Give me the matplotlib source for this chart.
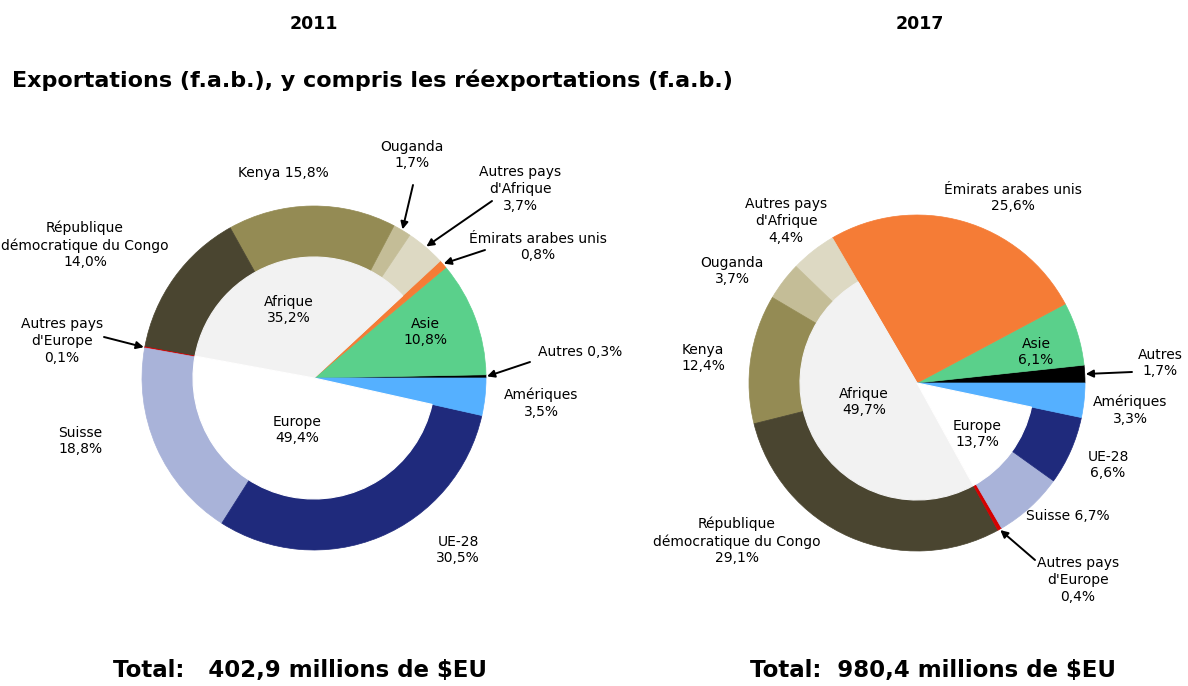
import matplotlib.pyplot as plt
import numpy as np

W, H = 1188, 686

# order of slices, counter-clockwise from 3 o'clock
names = ['Autres', 'Asie', 'Émirats arabes unis', "Autres pays d'Afrique", 'Ouganda',
         'Kenya', 'République démocratique du Congo', "Autres pays d'Europe",
         'Suisse', 'UE-28', 'Amériques']
vals_2011 = [0.3, 10.8, 0.8, 3.7, 1.7, 15.8, 14.0, 0.1, 18.8, 30.5, 3.5]
vals_2017 = [1.7, 6.1, 25.6, 4.4, 3.7, 12.4, 29.1, 0.4, 6.7, 6.6, 3.3]
afrique = {2011: 35.2, 2017: 49.7}
europe = {2011: 49.4, 2017: 13.7}
totals = {2011: '402,9', 2017: '980,4'}

colors = ['#000000', '#5ad08b', '#f57c36', '#ddd9c3', '#c4bd97', '#948b54',
          '#4a4530', '#d40000', '#a9b3d9', '#1f2a7c', '#55b0ff']


def pct(v):
    return f"{v:.1f}".replace('.', ',') + '%'


fig = plt.figure(figsize=(11.88, 6.86), dpi=100)
ax = fig.add_axes([0, 0, 1, 1])

FS = 10
LS = 1.25


def txt(x, y, s):
    ax.text(x, H - y, s, ha='center', va='center', fontsize=FS, linespacing=LS)


def draw(cx, cy, R, r, vals, year, labels, afr_pos, eur_pos):
    c = (cx, H - cy)
    wedges, _ = ax.pie(vals, colors=colors, startangle=0, radius=R, center=c,
                       wedgeprops=dict(linewidth=0.5))
    for w in wedges:
        w.set_edgecolor(w.get_facecolor())
    # inner disc: grey for Afrique, white for Europe, the rest left open
    inner = [sum(vals[0:3]), sum(vals[3:7]), sum(vals[7:10]), vals[10]]
    iw, _ = ax.pie(inner, colors=['none', '#f2f2f2', 'white', 'none'], startangle=0,
                   radius=r, center=c, wedgeprops=dict(linewidth=0))
    for w in iw[1:3]:
        w.set_edgecolor(w.get_facecolor())
        w.set_linewidth(0.8)
    for idx, t, tx, ty, arrow in labels:
        txt(tx, ty, t.format(pct(vals[idx])))
        if arrow is not None:
            w = wedges[idx]
            a = np.radians((w.theta1 + w.theta2) / 2)
            tip = (c[0] + (R + 1) * np.cos(a), c[1] + (R + 1) * np.sin(a))
            ax.annotate('', xy=tip, xytext=(arrow[0], H - arrow[1]),
                        arrowprops=dict(arrowstyle='-|>', color='k', lw=1.4,
                                        mutation_scale=11, shrinkA=0, shrinkB=0))
    txt(afr_pos[0], afr_pos[1], 'Afrique\n' + pct(afrique[year]))
    txt(eur_pos[0], eur_pos[1], 'Europe\n' + pct(europe[year]))


labels_2011 = [
    (5, 'Kenya {}', 283, 173, None),
    (4, 'Ouganda\n{}', 412, 155, (413, 185)),
    (3, "Autres pays\nd'Afrique\n{}", 520, 189, (492, 201)),
    (2, 'Émirats arabes unis\n{}', 538, 247, (485, 250)),
    (6, 'République\ndémocratique du Congo\n{}', 85, 245, None),
    (7, "Autres pays\nd'Europe\n{}", 62, 341, (104, 337)),
    (1, 'Asie\n{}', 425, 332, None),
    (0, 'Autres {}', 580, 352, (530, 362)),
    (10, 'Amériques\n{}', 541, 403, None),
    (8, 'Suisse\n{}', 80, 441, None),
    (9, 'UE-28\n{}', 458, 550, None),
]
labels_2017 = [
    (2, 'Émirats arabes unis\n{}', 1013, 198, None),
    (3, "Autres pays\nd'Afrique\n{}", 786, 221, None),
    (4, 'Ouganda\n{}', 732, 271, None),
    (5, 'Kenya\n{}', 703, 358, None),
    (1, 'Asie\n{}', 1036, 352, None),
    (0, 'Autres\n{}', 1160, 363, (1132, 372)),
    (10, 'Amériques\n{}', 1130, 410, None),
    (9, 'UE-28\n{}', 1108, 465, None),
    (8, 'Suisse {}', 1068, 516, None),
    (6, 'République\ndémocratique du Congo\n{}', 737, 541, None),
    (7, "Autres pays\nd'Europe\n{}", 1078, 580, (1035, 560)),
]

draw(314, 378, 172, 121, vals_2011, 2011, labels_2011, (289, 310), (297, 430))
draw(917, 383, 168, 117, vals_2017, 2017, labels_2017, (864, 402), (977, 434))

ax.text(314, H - 24, '2011', ha='center', va='center', fontsize=12.5, fontweight='bold')
ax.text(920, H - 24, '2017', ha='center', va='center', fontsize=12.5, fontweight='bold')
ax.text(12, H - 80, 'Exportations (f.a.b.), y compris les réexportations (f.a.b.)',
        ha='left', va='center', fontsize=16, fontweight='bold')
ax.text(113, H - 670, 'Total:   ' + totals[2011] + ' millions de $EU', ha='left',
        va='center', fontsize=16.5, fontweight='bold')
ax.text(750, H - 670, 'Total:  ' + totals[2017] + ' millions de $EU', ha='left',
        va='center', fontsize=16.5, fontweight='bold')

ax.set_xlim(0, W)
ax.set_ylim(0, H)
ax.set_aspect('equal')
ax.axis('off')

plt.savefig('out.png', dpi=100)
